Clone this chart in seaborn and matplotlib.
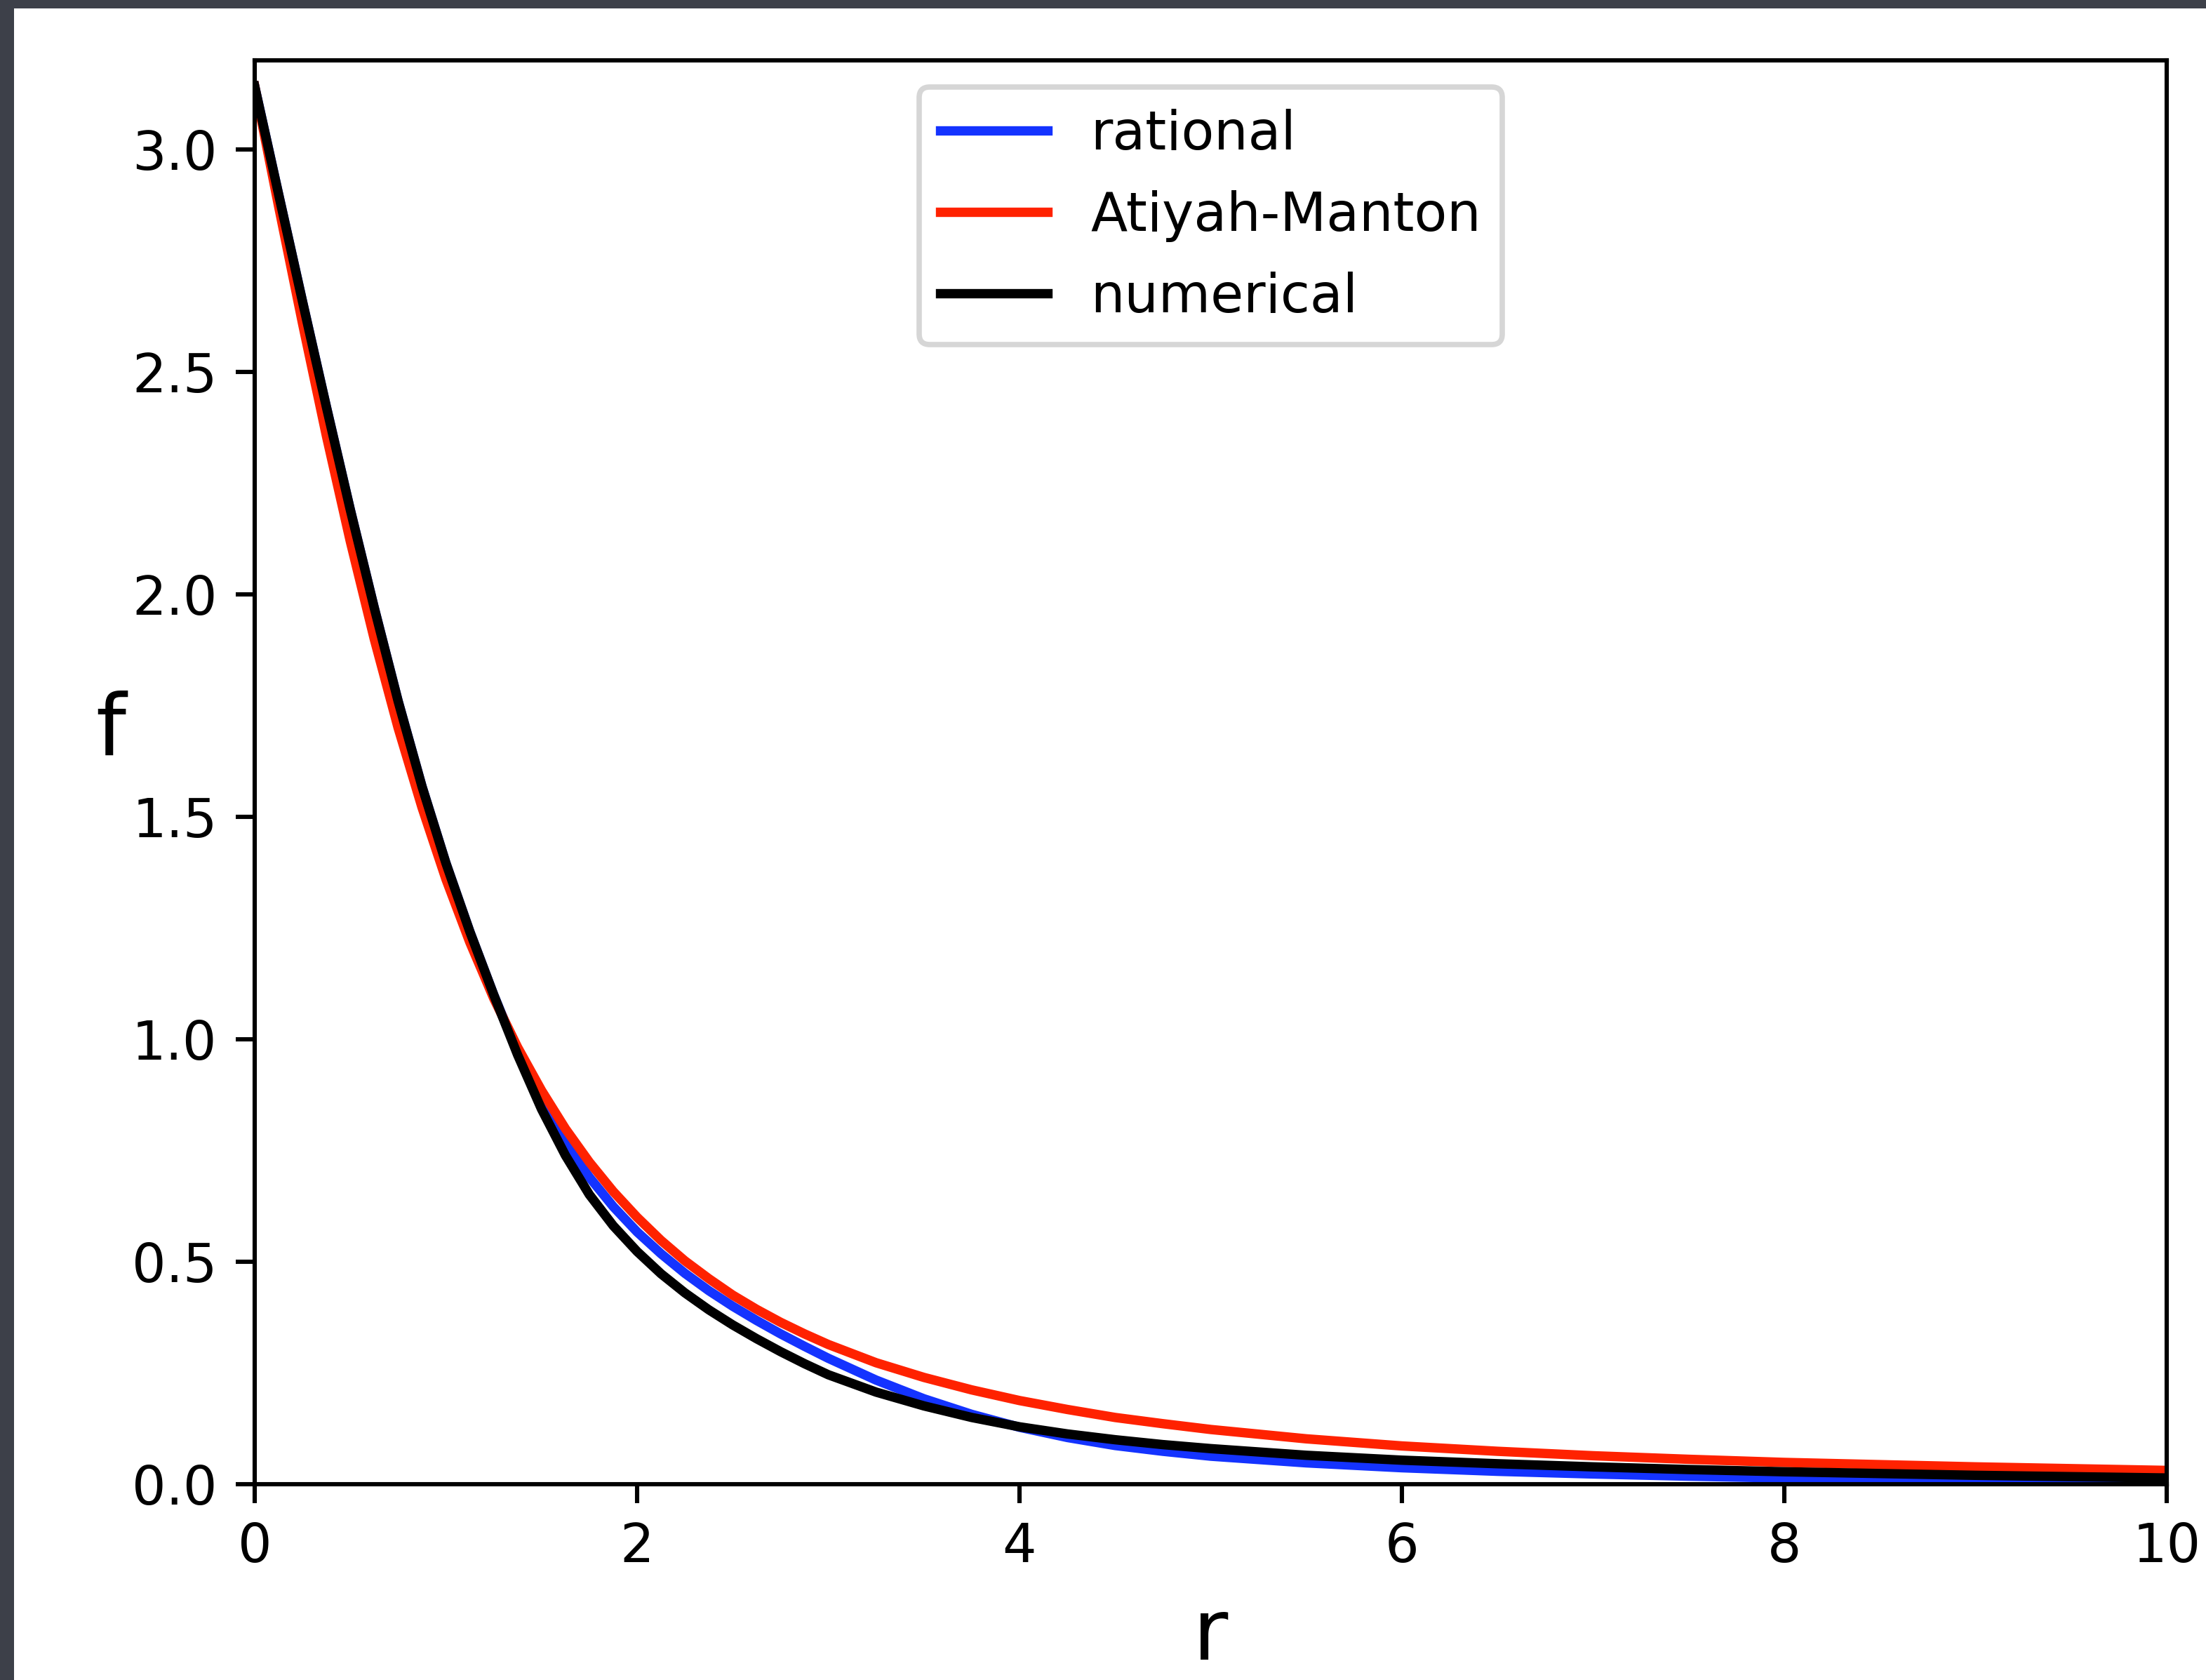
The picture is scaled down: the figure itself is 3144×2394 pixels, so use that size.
import numpy as np
import pandas as pd
import matplotlib
matplotlib.use("Agg")
import matplotlib.pyplot as plt
import seaborn as sns
from matplotlib.patches import Rectangle

# radial grid
r = [0.0, 0.125, 0.25, 0.375, 0.5, 0.625, 0.75, 0.875, 1.0, 1.125, 1.25, 1.375,
     1.5, 1.625, 1.75, 1.875, 2.0, 2.125, 2.25, 2.375, 2.5, 2.625, 2.75, 2.875,
     3.0, 3.25, 3.5, 3.75, 4.0, 4.25, 4.5, 4.75, 5.0, 5.5, 6.0, 6.5, 7.0, 7.5,
     8.0, 9.0, 10.0]

# profile functions f(r)
f_rational = [3.1416, 2.899, 2.658, 2.421, 2.190, 1.970, 1.760, 1.568, 1.396,
              1.242, 1.100, 0.970, 0.860, 0.768, 0.690, 0.624, 0.567, 0.518,
              0.474, 0.435, 0.400, 0.368, 0.338, 0.310, 0.283, 0.234, 0.192,
              0.157, 0.128, 0.105, 0.087, 0.074, 0.063, 0.048, 0.037, 0.029,
              0.023, 0.018, 0.014, 0.009, 0.006]
f_atiyah = [3.1416, 2.872, 2.609, 2.356, 2.119, 1.900, 1.700, 1.521, 1.360,
            1.218, 1.092, 0.982, 0.885, 0.799, 0.724, 0.658, 0.600, 0.548,
            0.502, 0.462, 0.425, 0.393, 0.364, 0.338, 0.314, 0.273, 0.240,
            0.212, 0.188, 0.168, 0.150, 0.136, 0.123, 0.102, 0.086, 0.074,
            0.064, 0.056, 0.049, 0.039, 0.031]
f_numerical = [3.1416, 2.899, 2.658, 2.421, 2.190, 1.970, 1.760, 1.568, 1.396,
               1.242, 1.100, 0.965, 0.843, 0.739, 0.651, 0.581, 0.523, 0.473,
               0.430, 0.392, 0.358, 0.327, 0.298, 0.271, 0.246, 0.207, 0.176,
               0.150, 0.129, 0.113, 0.100, 0.089, 0.080, 0.065, 0.054, 0.046,
               0.039, 0.033, 0.028, 0.020, 0.014]

fig = plt.figure(figsize=(3144 / 550, 2394 / 550), dpi=550)
ax = fig.add_axes([0.11546, 0.11654, 0.86673, 0.84754])

# Plot
sns.lineplot(x=r, y=f_rational, ax=ax, color="#1433ff", lw=1.75, label="rational")
sns.lineplot(x=r, y=f_atiyah, ax=ax, color="#ff2200", lw=1.75, label="Atiyah-Manton")
sns.lineplot(x=r, y=f_numerical, ax=ax, color="black", lw=1.75, label="numerical")

ax.set_xlim(0, 10)
ax.set_ylim(0, 3.2)
ax.set_xticks([0, 2, 4, 6, 8, 10])
ax.set_yticks([0.0, 0.5, 1.0, 1.5, 2.0, 2.5, 3.0])
ax.set_xlabel("r", fontsize=16)
ax.set_ylabel("f", fontsize=16, rotation=0)
ax.legend(loc="upper center", fontsize=10, labelspacing=0.55)

# dark screenshot edge at the top and left
edge = "#3d4049"
fig.patches.append(Rectangle((0, 1 - 12 / 2394), 1, 12 / 2394, transform=fig.transFigure,
                             facecolor=edge, edgecolor="none", zorder=10))
fig.patches.append(Rectangle((0, 0), 20 / 3144, 1, transform=fig.transFigure,
                             facecolor=edge, edgecolor="none", zorder=10))

fig.savefig("out.png", dpi=550)
